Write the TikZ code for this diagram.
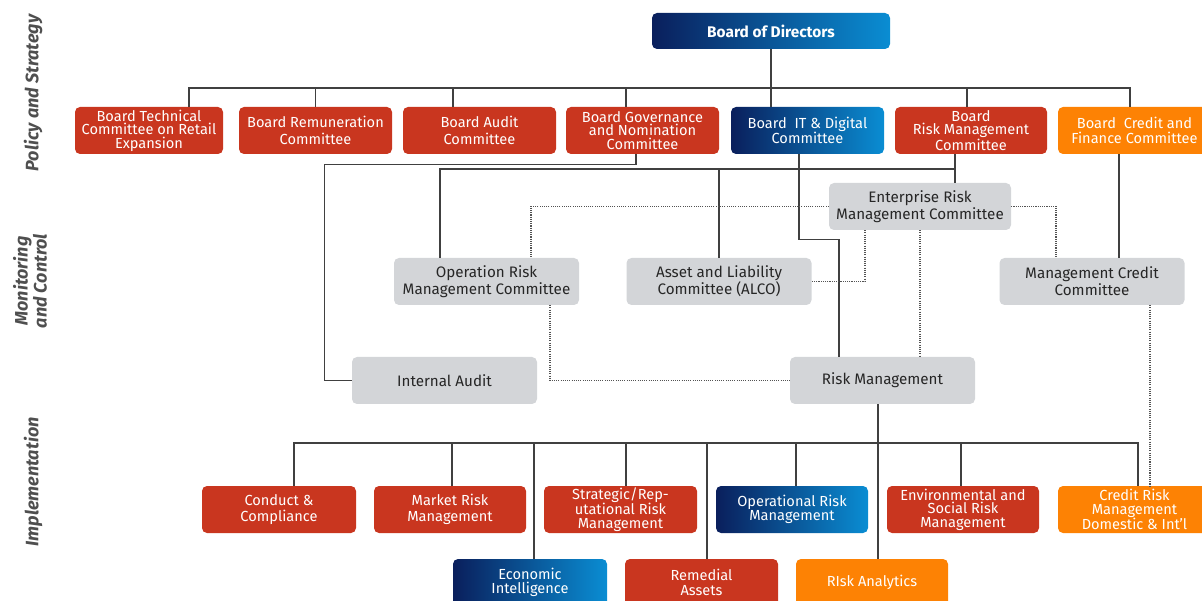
\documentclass[tikz,border=0pt]{standalone}
\usepackage{fontspec}
\setmainfont{Fira Sans}
\usepackage{xcolor}
\usepackage{tikz}
\usetikzlibrary{positioning}
\definecolor{riskred}{HTML}{C9361F}
\definecolor{riskorange}{HTML}{FD8204}
\definecolor{navy}{HTML}{0A1F5C}
\definecolor{skyblue}{HTML}{0A8DD3}
\definecolor{panelgray}{HTML}{D3D5D8}
\definecolor{linegray}{HTML}{404040}
\definecolor{labelgray}{HTML}{4F4F4F}
\tikzset{
  unit/.style    ={rounded corners=5pt,minimum height=47pt,inner sep=1pt,align=center,
                   text=white,font=\fontsize{14.6}{16.5}\selectfont},
  tight/.style   ={font=\fontsize{14.6}{13.6}\selectfont},
  snug/.style    ={font=\fontsize{14.6}{14.5}\selectfont},
  redbox/.style  ={unit,fill=riskred},
  orangebox/.style={unit,fill=riskorange},
  bluebox/.style ={unit,left color=navy,right color=skyblue},
  greybox/.style ={rounded corners=5pt,minimum height=47pt,minimum width=185pt,inner sep=1pt,
                   align=center,fill=panelgray,text=black!85,font=\fontsize{15.2}{17}\selectfont},
  link/.style    ={draw=linegray,line width=1.3pt},
  dotlink/.style ={draw=linegray!90,line width=1.1pt,dash pattern=on 1.1pt off 1.1pt},
  side/.style    ={rotate=90,text=labelgray,align=center,
                   font=\fontsize{18}{19}\selectfont\bfseries\itshape}
}
\begin{document}
\begin{tikzpicture}[x=1pt,y=-1pt]
  \useasboundingbox (0,0) rectangle (1202,601);
  % tiers
  \node[side] (tpol) at (33,93) {Policy and Strategy};
  \node[side] (tmon) at (30,281) {Monitoring\\and Control};
  \node[side] (timp) at (33,482) {Implementation};
  % board level
  \node[bluebox,minimum width=238pt,minimum height=36pt,font=\fontsize{15.4}{16}\selectfont\bfseries] (bod) at (771,31) {Board of Directors};
  \node[redbox,tight,minimum width=148pt] (btc) at (149,130.5) {Board Technical\\Committee on Retail\\Expansion};
  \node[redbox,minimum width=153pt] (brc) at (315.5,130.5) {Board Remuneration\\Committee};
  \node[redbox,minimum width=153pt] (bac) at (479.5,130.5) {Board Audit\\Committee};
  \node[redbox,tight,minimum width=153pt] (bgn) at (642.5,130.5) {Board Governance\\and Nomination\\Committee};
  \node[bluebox,snug,minimum width=153pt] (bit) at (807.5,130.5) {Board~~IT \& Digital\\Committee};
  \node[redbox,tight,minimum width=152pt] (brm) at (971,130.5) {Board\\Risk Management\\Committee};
  \node[orangebox,snug,minimum width=153pt] (bcf) at (1134.5,130.5) {Board~~Credit and\\Finance Committee};
  % management committees
  \node[greybox,minimum width=182pt] (erm) at (920,206.5) {Enterprise Risk\\Management Committee};
  \node[greybox] (orm) at (486.5,281.5) {Operation Risk\\Management Committee};
  \node[greybox] (alco) at (719,281.5) {Asset and Liability\\Committee (ALCO)};
  \node[greybox] (mcc) at (1092,281.5) {Management Credit\\Committee};
  \node[greybox] (ia) at (444.5,380.5) {Internal Audit};
  \node[greybox] (rm) at (882.5,380.5) {Risk Management};
  % implementation units
  \node[redbox,minimum width=154pt] (cc) at (279,509.5) {Conduct \&\\Compliance};
  \node[redbox,minimum width=152pt] (mrm) at (450,509.5) {Market Risk\\Management};
  \node[redbox,tight,minimum width=153pt] (srm) at (620.5,509.5) {Strategic/Rep-\\utational Risk\\Management};
  \node[bluebox,snug,minimum width=152pt] (orisk) at (792,509.5) {Operational Risk\\Management};
  \node[redbox,tight,minimum width=152pt] (esr) at (963,509.5) {Environmental and\\Social Risk\\Management};
  \node[orangebox,tight,minimum width=153pt] (crm) at (1134.5,509.5) {Credit Risk\\Management\\Domestic \& Int'l};
  \node[bluebox,snug,minimum width=154pt] (ei) at (530,582.5) {Economic\\Intelligence};
  \node[redbox,snug,minimum width=153pt] (rem) at (701.5,582.5) {Remedial\\Assets};
  \node[orangebox,minimum width=152pt] (ran) at (872,582.5) {RIsk Analytics};
  % board tree
  \coordinate (bus) at (771,88);
  \draw[link] (bod.south) -- ([xshift=-36.5pt]bit.north);
  \draw[link] (bus) -| ([xshift=40pt]btc.north);
  \draw[link] (bus) -| (brc.north);
  \draw[link] (bus) -| ([xshift=-26.5pt]bac.north);
  \draw[link] (bus) -| ([xshift=-16.5pt]bgn.north);
  \draw[link] (bus) -| ([xshift=-4pt]brm.north);
  \draw[link] (bus) -| ([xshift=-4.5pt]bcf.north);
  % reporting lines
  \draw[link] ([xshift=-6.5pt]bgn.south) -- ++(0,10) -| ([xshift=-27pt]ia.west) -- (ia.west);
  \coordinate (rmbus) at (955,169);
  \draw[link] ([xshift=-16pt]brm.south) -- ([xshift=35pt]erm.north);
  \draw[link] (rmbus) -| ([xshift=-46.5pt]orm.north);
  \draw[link] (rmbus) -| (alco.north);
  \draw[link] ([xshift=-8.5pt]bit.south) -- ++(0,85) -| ([xshift=-43.5pt]rm.north);
  \draw[link] ([xshift=-15.5pt]bcf.south) -- ([xshift=27pt]mcc.north);
  % dotted lines
  \draw[dotlink] (erm.west) -| ([xshift=44.5pt]orm.north);
  \draw[dotlink] (erm.east) -| ([xshift=-36pt]mcc.north);
  \draw[dotlink] ([xshift=-55pt]erm.south) |- (alco.east);
  \draw[dotlink] (erm.south) -- (erm.south |- rm.north);
  \draw[dotlink] ([xshift=63.5pt]orm.south) |- (rm.west);
  \draw[dotlink] ([xshift=58pt]mcc.south) -- ([xshift=15.5pt]crm.north);
  % implementation tree
  \coordinate (impbus) at (878,443);
  \draw[link] ([xshift=-4.5pt]rm.south) -- ([xshift=6pt]ran.north);
  \draw[link] (impbus) -| ([xshift=15pt]cc.north);
  \draw[link] (impbus) -| ([xshift=2pt]mrm.north);
  \draw[link] (impbus) -| ([xshift=4pt]ei.north);
  \draw[link] (impbus) -| ([xshift=5.5pt]srm.north);
  \draw[link] (impbus) -| ([xshift=5.5pt]rem.north);
  \draw[link] (impbus) -| ([xshift=4pt]orisk.north);
  \draw[link] (impbus) -| ([xshift=-2pt]esr.north);
  \draw[link] (impbus) -| ([xshift=3.5pt]crm.north);
\end{tikzpicture}
\end{document}
